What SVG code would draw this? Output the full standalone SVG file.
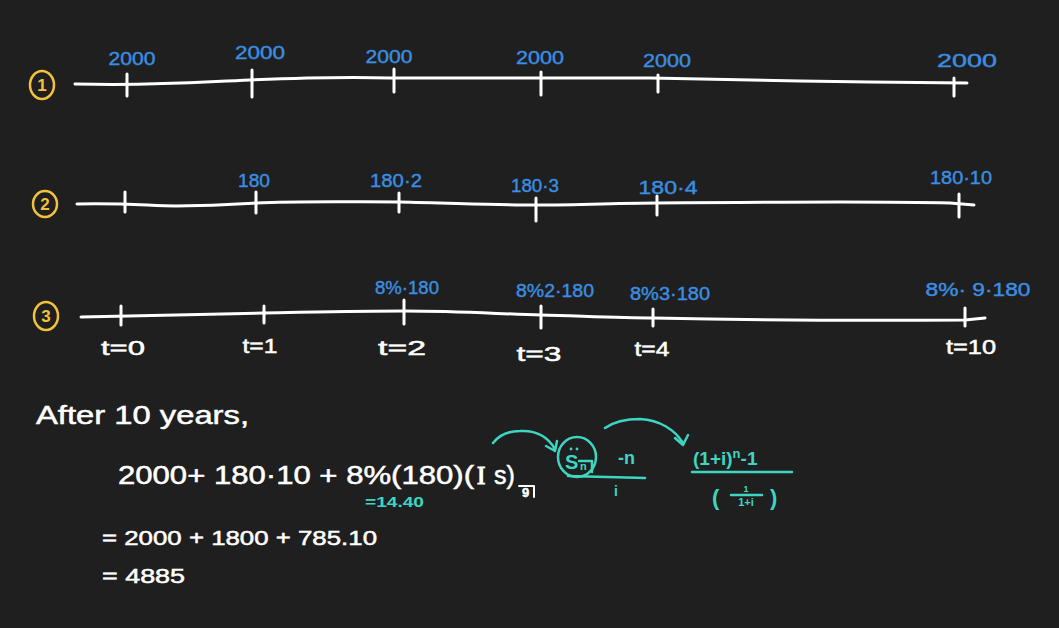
<svg xmlns="http://www.w3.org/2000/svg" width="1059" height="628" viewBox="0 0 1059 628">
<style>
.bg{fill:#1f1f1f}
.ln{fill:none;stroke:#ffffff;stroke-width:3;stroke-linecap:round;stroke-linejoin:round}
.tk{stroke:#ffffff;stroke-width:3;stroke-linecap:round}
.yc{fill:none;stroke:#f2c23b;stroke-width:2.5}
.yt{fill:#f2c23b;font-family:"Liberation Sans",Arial,sans-serif;font-weight:bold;font-size:17px;text-anchor:middle}
.bl{fill:#3b8ee0;stroke:#3b8ee0;stroke-width:0.4;font-family:"Liberation Sans",Arial,sans-serif;font-size:18px;text-anchor:middle}
.wt{fill:#ffffff;stroke:#ffffff;stroke-width:0.5;font-family:"Liberation Sans",Arial,sans-serif}
.tl{fill:#ffffff;stroke:#ffffff;stroke-width:0.5;font-family:"Liberation Sans",Arial,sans-serif;font-size:21px;text-anchor:middle}
.te{fill:#3ed6c2;font-family:"Liberation Sans",Arial,sans-serif;font-weight:bold}
.tc{fill:none;stroke:#3ed6c2;stroke-width:2.5;stroke-linecap:round;stroke-linejoin:round}
.wb{fill:none;stroke:#ffffff;stroke-width:2;stroke-linecap:round;stroke-linejoin:round}
</style>
<rect class="bg" x="0" y="0" width="1059" height="628"/>

<g id="timeline1">
  <ellipse class="yc" cx="42" cy="85" rx="12" ry="14"/>
  <text class="yt" x="42" y="91">1</text>
  <path class="ln" d="M75,84 C160,86 200,82 250,80 C320,77 360,77 390,78 L540,78 L650,78 C720,79 760,80 800,81 C860,82 900,82 967,83"/>
  <line class="tk" x1="127" y1="74" x2="127" y2="96"/>
  <line class="tk" x1="252" y1="70" x2="252" y2="97"/>
  <line class="tk" x1="394" y1="69" x2="394" y2="92"/>
  <line class="tk" x1="541" y1="72" x2="541" y2="95"/>
  <line class="tk" x1="658" y1="75" x2="658" y2="92"/>
  <line class="tk" x1="954" y1="78" x2="954" y2="96"/>
  <text class="bl" x="132" y="65" textLength="47" lengthAdjust="spacingAndGlyphs">2000</text>
  <text class="bl" x="260" y="59" textLength="50" lengthAdjust="spacingAndGlyphs">2000</text>
  <text class="bl" x="389" y="63" textLength="47" lengthAdjust="spacingAndGlyphs">2000</text>
  <text class="bl" x="540" y="64" textLength="48" lengthAdjust="spacingAndGlyphs">2000</text>
  <text class="bl" x="667" y="67" textLength="48" lengthAdjust="spacingAndGlyphs">2000</text>
  <text class="bl" x="967" y="67" textLength="60" lengthAdjust="spacingAndGlyphs">2000</text>
</g>

<g id="timeline2">
  <ellipse class="yc" cx="45" cy="204" rx="12" ry="13"/>
  <text class="yt" x="45" y="210">2</text>
  <path class="ln" d="M77,204 C130,203 150,206 176,206 C220,206 240,204 256,203 C300,201 350,202 399,202 C450,203 500,205 536,205 C580,205 620,203 657,203 C760,202 880,201 950,203 L974,205"/>
  <line class="tk" x1="125" y1="192" x2="125" y2="212"/>
  <line class="tk" x1="256" y1="192" x2="256" y2="213"/>
  <line class="tk" x1="399" y1="193" x2="399" y2="212"/>
  <line class="tk" x1="536" y1="198" x2="536" y2="221"/>
  <line class="tk" x1="657" y1="196" x2="657" y2="215"/>
  <line class="tk" x1="959" y1="194" x2="959" y2="217"/>
  <text class="bl" x="254" y="187" textLength="32" lengthAdjust="spacingAndGlyphs">180</text>
  <text class="bl" x="396" y="187" textLength="52" lengthAdjust="spacingAndGlyphs">180·2</text>
  <text class="bl" x="535" y="192" textLength="48" lengthAdjust="spacingAndGlyphs">180·3</text>
  <text class="bl" x="668" y="194" textLength="59" lengthAdjust="spacingAndGlyphs">180·4</text>
  <text class="bl" x="961" y="184" textLength="62" lengthAdjust="spacingAndGlyphs">180·10</text>
</g>

<g id="timeline3">
  <ellipse class="yc" cx="46" cy="316" rx="12" ry="14"/>
  <text class="yt" x="46" y="322">3</text>
  <path class="ln" d="M81,317 C150,316 200,314 264,313 C320,312 360,311 404,311 C460,311 500,314 541,315 C580,316 620,318 653,318 C750,320 850,321 965,320 L985,318"/>
  <line class="tk" x1="121" y1="306" x2="121" y2="325"/>
  <line class="tk" x1="264" y1="306" x2="264" y2="323"/>
  <line class="tk" x1="404" y1="300" x2="404" y2="324"/>
  <line class="tk" x1="541" y1="306" x2="541" y2="328"/>
  <line class="tk" x1="653" y1="309" x2="653" y2="326"/>
  <line class="tk" x1="965" y1="308" x2="965" y2="326"/>
  <text class="bl" x="407" y="294" textLength="64" lengthAdjust="spacingAndGlyphs">8%·180</text>
  <text class="bl" x="555" y="297" textLength="78" lengthAdjust="spacingAndGlyphs">8%2·180</text>
  <text class="bl" x="670" y="300" textLength="80" lengthAdjust="spacingAndGlyphs">8%3·180</text>
  <text class="bl" x="978" y="296" textLength="105" lengthAdjust="spacingAndGlyphs">8%· 9·180</text>
  <text class="tl" x="123" y="355" textLength="44" lengthAdjust="spacingAndGlyphs">t=0</text>
  <text class="tl" x="260" y="353" textLength="35" lengthAdjust="spacingAndGlyphs">t=1</text>
  <text class="tl" x="402" y="355" textLength="48" lengthAdjust="spacingAndGlyphs">t=2</text>
  <text class="tl" x="539" y="361" textLength="45" lengthAdjust="spacingAndGlyphs">t=3</text>
  <text class="tl" x="652" y="356" textLength="35" lengthAdjust="spacingAndGlyphs">t=4</text>
  <text class="tl" x="971" y="354" textLength="50" lengthAdjust="spacingAndGlyphs">t=10</text>
</g>

<g id="working">
  <text class="wt" x="36" y="424" font-size="26" textLength="213" lengthAdjust="spacingAndGlyphs">After 10 years,</text>
  <text class="wt" x="118" y="484" font-size="25" textLength="356" lengthAdjust="spacingAndGlyphs">2000+ 180·10 + 8%(180)(</text>
  <text x="477" y="484" font-size="25" fill="#ffffff" stroke="#ffffff" stroke-width="1.2" font-family="'Liberation Serif',serif">I</text>
  <text class="wt" x="494" y="484" font-size="25">s)</text>
  <text class="wt" x="522" y="497" font-size="13" font-weight="bold">9</text>
  <path class="wb" d="M519,486 L534,486 L534,497"/>
  <text class="te" x="365" y="507" font-size="14" textLength="59" lengthAdjust="spacingAndGlyphs">=14.40</text>
  <text class="wt" x="102" y="545" font-size="20" textLength="275" lengthAdjust="spacingAndGlyphs">= 2000 + 1800 + 785.10</text>
  <text class="wt" x="102" y="583" font-size="20" textLength="83" lengthAdjust="spacingAndGlyphs">= 4885</text>
</g>

<g id="sdot">
  <ellipse class="tc" cx="577" cy="457" rx="19" ry="20"/>
  <text class="te" x="565" y="469" font-size="20">S</text>
  <circle cx="571" cy="449" r="1.4" fill="#3ed6c2"/>
  <circle cx="577" cy="449" r="1.4" fill="#3ed6c2"/>
  <text class="te" x="580" y="470" font-size="11">n</text>
  <path class="tc" d="M579,461 L592,461 L592,472" stroke-width="1.8"/>
  <text class="te" x="618" y="464" font-size="18">-n</text>
  <line class="tc" x1="568" y1="476" x2="645" y2="478"/>
  <text class="te" x="616" y="496" font-size="14" text-anchor="middle">i</text>
</g>

<g id="formula">
  <text class="te" x="693" y="465" font-size="19">(1+i)<tspan font-size="13" dy="-7">n</tspan><tspan dy="7">-1</tspan></text>
  <line class="tc" x1="692" y1="472" x2="792" y2="472"/>
  <text class="te" x="712" y="505" font-size="22">(</text>
  <text class="te" x="770" y="505" font-size="22">)</text>
  <text class="te" x="746" y="492" font-size="9" text-anchor="middle">1</text>
  <line class="tc" x1="731" y1="495" x2="762" y2="495" stroke-width="1.5"/>
  <text class="te" x="746" y="506" font-size="11" text-anchor="middle">1+i</text>
</g>

<g id="connectors">
  <path class="tc" d="M493,443 C500,434 510,431 520,431 C537,430 548,437 555,449"/>
  <polyline class="tc" points="546,446 555,451 557,441"/>
  <path class="tc" d="M605,428 C615,421 628,419 640,419 C660,420 675,430 683,443"/>
  <polyline class="tc" points="675,438 683,445 688,435"/>
</g>
</svg>
